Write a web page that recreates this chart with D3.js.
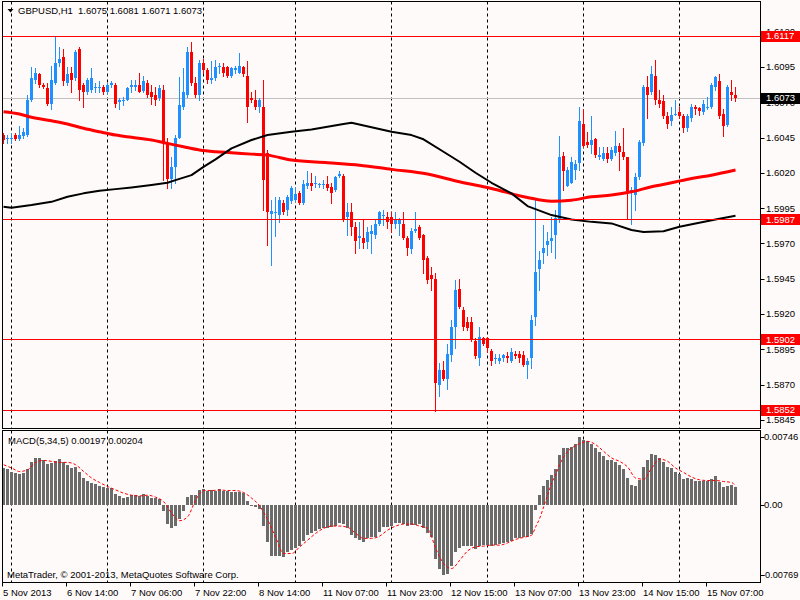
<!DOCTYPE html>
<html>
<head>
<meta charset="utf-8">
<script src="https://cdn.jsdelivr.net/npm/d3@7"></script>
<style>
  body { margin: 0; background: #fffafa; }
  svg { display: block; }
  text { font-family: "Liberation Sans", Arial, sans-serif; font-size: 9.5px; fill: #000; }
</style>
</head>
<body>
<div id="chart"></div>
<script>
// GBPUSD H1 bars, 5 Nov 2013 22:00 -> 15 Nov 2013 14:00
var opens = [1.6047,1.6044,1.6045,1.6047,1.6044,1.6046,1.6047,1.6072,1.6086,1.6090,
  1.6082,1.6080,1.6069,1.6084,1.6098,1.6102,1.6084,1.6091,1.6087,1.6108,
  1.6082,1.6077,1.6079,1.6081,1.6080,1.6081,1.6077,1.6082,1.6082,1.6070,
  1.6071,1.6072,1.6081,1.6081,1.6082,1.6078,1.6084,1.6077,1.6075,1.6073,
  1.6079,1.6041,1.6016,1.6024,1.6045,1.6067,1.6075,1.6106,1.6084,1.6075,
  1.6098,1.6093,1.6086,1.6087,1.6095,1.6095,1.6095,1.6089,1.6093,1.6091,
  1.6095,1.6089,1.6073,1.6072,1.6067,1.6067,1.6034,1.5991,1.5992,1.5990,
  1.5999,1.5994,1.6000,1.6001,1.6006,1.5999,1.6011,1.6013,1.6012,1.6012,
  1.6012,1.6012,1.6010,1.6008,1.6018,1.6018,1.5989,1.5992,1.5982,1.5974,
  1.5974,1.5971,1.5977,1.5976,1.5984,1.5990,1.5989,1.5989,1.5984,1.5984,
  1.5984,1.5974,1.5966,1.5979,1.5982,1.5976,1.5960,1.5948,1.5945,1.5870,
  1.5880,1.5874,1.5891,1.5911,1.5938,1.5923,1.5914,1.5914,1.5901,1.5889,
  1.5903,1.5903,1.5894,1.5889,1.5887,1.5889,1.5890,1.5887,1.5892,1.5892,
  1.5891,1.5884,1.5889,1.5918,1.5952,1.5963,1.5969,1.5972,1.5976,1.5987,
  1.6032,1.6011,1.6013,1.6022,1.6027,1.6055,1.6042,1.6040,1.6044,1.6031,
  1.6030,1.6034,1.6030,1.6034,1.6039,1.6035,1.6031,1.6006,1.6004,1.6017,
  1.6041,1.6081,1.6077,1.6089,1.6072,1.6071,1.6060,1.6057,1.6062,1.6063,
  1.6060,1.6052,1.6059,1.6067,1.6066,1.6063,1.6067,1.6067,1.6081,1.6085,
  1.6062,1.6054,1.6077,1.6075];
var highs = [1.6048,1.6047,1.6048,1.6048,1.6053,1.6052,1.6075,1.6095,1.6094,1.6091,
  1.6084,1.6084,1.6096,1.6117,1.6109,1.6108,1.6095,1.6095,1.6107,1.6109,
  1.6084,1.6087,1.6094,1.6084,1.6085,1.6082,1.6084,1.6085,1.6084,1.6073,
  1.6074,1.6081,1.6086,1.6086,1.6091,1.6089,1.6086,1.6082,1.6081,1.6082,
  1.6082,1.6045,1.6031,1.6047,1.6088,1.6094,1.6109,1.6113,1.6088,1.6100,
  1.6101,1.6094,1.6099,1.6100,1.6098,1.6098,1.6096,1.6095,1.6096,1.6105,
  1.6096,1.6099,1.6077,1.6079,1.6073,1.6086,1.6036,1.6001,1.6003,1.6003,
  1.6001,1.6004,1.6011,1.6009,1.6007,1.6015,1.6021,1.6020,1.6018,1.6013,
  1.6015,1.6018,1.6013,1.6018,1.6021,1.6019,1.5999,1.5999,1.5985,1.5985,
  1.5987,1.5982,1.5983,1.5987,1.5993,1.5994,1.5992,1.5992,1.5992,1.5988,
  1.5992,1.5975,1.5981,1.5992,1.5983,1.5977,1.5961,1.5953,1.5949,1.5885,
  1.5887,1.5899,1.5916,1.5944,1.5945,1.5925,1.5918,1.5918,1.5903,1.5911,
  1.5904,1.5904,1.5895,1.5892,1.5892,1.5892,1.5893,1.5896,1.5894,1.5894,
  1.5894,1.5889,1.5919,1.6001,1.5965,1.5983,1.5978,1.5989,1.5994,1.6046,
  1.6035,1.6024,1.6031,1.6029,1.6067,1.6065,1.6049,1.6060,1.6045,1.6038,
  1.6038,1.6038,1.6038,1.6050,1.6041,1.6052,1.6031,1.6010,1.6020,1.6043,
  1.6082,1.6089,1.6096,1.6100,1.6079,1.6075,1.6063,1.6067,1.6072,1.6067,
  1.6062,1.6062,1.6069,1.6068,1.6067,1.6072,1.6074,1.6084,1.6089,1.6090,
  1.6065,1.6082,1.6086,1.6081];
var lows = [1.6041,1.6041,1.6041,1.6043,1.6043,1.6045,1.6046,1.6071,1.6084,1.6081,
  1.6080,1.6068,1.6065,1.6083,1.6096,1.6082,1.6082,1.6077,1.6086,1.6072,
  1.6067,1.6076,1.6077,1.6077,1.6077,1.6076,1.6076,1.6081,1.6067,1.6065,
  1.6068,1.6072,1.6077,1.6079,1.6077,1.6077,1.6074,1.6069,1.6068,1.6072,
  1.6015,1.6009,1.6009,1.6013,1.6045,1.6065,1.6074,1.6082,1.6074,1.6072,
  1.6091,1.6084,1.6084,1.6086,1.6091,1.6089,1.6088,1.6088,1.6091,1.6091,
  1.6089,1.6056,1.6070,1.6065,1.6063,1.5994,1.5969,1.5955,1.5975,1.5985,
  1.5991,1.5990,1.5999,1.6000,1.5998,1.5998,1.6009,1.6008,1.6010,1.6010,
  1.6009,1.6008,1.5999,1.6007,1.6017,1.5986,1.5976,1.5976,1.5963,1.5967,
  1.5967,1.5967,1.5963,1.5974,1.5983,1.5983,1.5981,1.5978,1.5981,1.5976,
  1.5973,1.5962,1.5963,1.5978,1.5973,1.5949,1.5942,1.5937,1.5851,1.5862,
  1.5873,1.5867,1.5887,1.5896,1.5924,1.5909,1.5909,1.5901,1.5889,1.5884,
  1.5898,1.5893,1.5884,1.5885,1.5885,1.5887,1.5886,1.5886,1.5889,1.5886,
  1.5883,1.5875,1.5882,1.5912,1.5937,1.5956,1.5962,1.5964,1.5960,1.5985,
  1.6008,1.6011,1.6013,1.6016,1.6022,1.6038,1.6038,1.6034,1.6031,1.6030,
  1.6029,1.6028,1.6029,1.6033,1.6022,1.6030,1.5987,1.5984,1.5994,1.6016,
  1.6040,1.6059,1.6076,1.6069,1.6067,1.6059,1.6052,1.6054,1.6061,1.6059,
  1.6049,1.6050,1.6057,1.6062,1.6061,1.6062,1.6065,1.6066,1.6079,1.6059,
  1.6046,1.6053,1.6072,1.6071];
var closes = [1.6043,1.6045,1.6045,1.6044,1.6047,1.6049,1.6072,1.6087,1.6091,1.6082,
  1.6081,1.6069,1.6086,1.6098,1.6101,1.6085,1.6090,1.6086,1.6106,1.6079,
  1.6077,1.6086,1.6087,1.6081,1.6081,1.6077,1.6082,1.6084,1.6069,1.6072,
  1.6072,1.6080,1.6082,1.6082,1.6077,1.6085,1.6075,1.6074,1.6072,1.6080,
  1.6041,1.6016,1.6024,1.6045,1.6068,1.6077,1.6106,1.6084,1.6075,1.6098,
  1.6093,1.6086,1.6087,1.6095,1.6096,1.6091,1.6089,1.6094,1.6094,1.6096,
  1.6090,1.6067,1.6072,1.6067,1.6072,1.6015,1.5992,1.5993,1.5992,1.6001,
  1.5992,1.6003,1.6009,1.6005,1.5999,1.6012,1.6013,1.6011,1.6013,1.6012,
  1.6012,1.6009,1.6006,1.6017,1.6019,1.5987,1.5992,1.5982,1.5972,1.5975,
  1.5970,1.5978,1.5979,1.5984,1.5992,1.5990,1.5985,1.5984,1.5987,1.5987,
  1.5974,1.5967,1.5979,1.5980,1.5974,1.5958,1.5944,1.5945,1.5871,1.5880,
  1.5874,1.5892,1.5911,1.5937,1.5925,1.5911,1.5910,1.5902,1.5890,1.5904,
  1.5899,1.5896,1.5887,1.5889,1.5889,1.5891,1.5889,1.5893,1.5890,1.5889,
  1.5884,1.5887,1.5916,1.5950,1.5958,1.5967,1.5972,1.5974,1.5988,1.6031,
  1.6021,1.6022,1.6028,1.6026,1.6057,1.6039,1.6040,1.6043,1.6033,1.6033,
  1.6034,1.6030,1.6036,1.6039,1.6035,1.6031,1.6006,1.6008,1.6017,1.6042,
  1.6081,1.6075,1.6090,1.6072,1.6069,1.6060,1.6055,1.6061,1.6062,1.6060,
  1.6052,1.6060,1.6067,1.6065,1.6064,1.6069,1.6067,1.6082,1.6088,1.6060,
  1.6053,1.6081,1.6075,1.6073];

// moving averages at a few bars (bar index, price)
var maRedBars = [0,4,7,12,16,20,24,28,32,37,41,45,49,53,57,62,66,72,81,89,97,106,114,122,131,137,142,147,152,157,162,167,172,177,183];
var maRedValues = [1.60633,1.60617,1.60594,1.60569,1.60546,1.60516,1.60491,1.60468,1.60452,1.60433,1.60409,1.60385,1.60362,1.60350,1.60343,
  1.60333,1.60326,1.60291,1.60272,1.60255,1.60225,1.60192,1.60137,1.60090,1.60026,1.60000,1.60007,1.60031,1.60043,1.60066,
  1.60102,1.60130,1.60161,1.60184,1.60220];
var maBlackBars = [0,2,7,12,16,20,24,28,32,37,41,43,47,50,53,57,62,66,72,77,81,85,87,92,97,102,105,110,114,118,122,127,131,137,142,147,152,157,160,165,169,173,178,183];
var maBlackValues = [1.59960,1.59953,1.59972,1.59995,1.60031,1.60055,1.60073,1.60085,1.60097,1.60114,1.60130,1.60149,1.60184,1.60243,1.60296,
  1.60374,1.60433,1.60468,1.60491,1.60508,1.60527,1.60546,1.60555,1.60523,1.60491,1.60468,1.60438,1.60350,1.60279,1.60201,
  1.60130,1.60055,1.59965,1.59901,1.59870,1.59853,1.59842,1.59795,1.59782,1.59787,1.59818,1.59842,1.59870,1.59896];

// MACD(5,34,5) histogram, one value per bar
var macdMain = [0.00405,0.00394,0.00367,0.00350,0.00342,0.00350,0.00394,0.00471,0.00515,0.00515,
  0.00489,0.00452,0.00460,0.00478,0.00504,0.00467,0.00441,0.00405,0.00422,0.00367,
  0.00295,0.00268,0.00246,0.00232,0.00210,0.00202,0.00191,0.00184,0.00121,0.00099,
  0.00081,0.00092,0.00107,0.00107,0.00099,0.00121,0.00099,0.00074,0.00074,0.00063,
  -0.00063,-0.00210,-0.00257,-0.00232,-0.00158,-0.00063,0.00092,0.00110,0.00110,0.00165,
  0.00173,0.00158,0.00165,0.00158,0.00173,0.00158,0.00158,0.00147,0.00147,0.00147,
  0.00136,0.00047,0.00002,-0.00025,-0.00047,-0.00232,-0.00405,-0.00563,-0.00563,-0.00563,
  -0.00570,-0.00515,-0.00496,-0.00467,-0.00452,-0.00394,-0.00331,-0.00306,-0.00283,-0.00268,
  -0.00257,-0.00250,-0.00239,-0.00232,-0.00195,-0.00210,-0.00257,-0.00331,-0.00367,-0.00386,
  -0.00405,-0.00367,-0.00356,-0.00350,-0.00295,-0.00246,-0.00239,-0.00232,-0.00202,-0.00202,
  -0.00210,-0.00232,-0.00221,-0.00221,-0.00210,-0.00257,-0.00306,-0.00350,-0.00588,-0.00698,
  -0.00769,-0.00761,-0.00673,-0.00515,-0.00467,-0.00452,-0.00452,-0.00452,-0.00478,-0.00452,
  -0.00441,-0.00441,-0.00452,-0.00441,-0.00430,-0.00422,-0.00405,-0.00394,-0.00367,-0.00367,
  -0.00356,-0.00350,-0.00320,-0.00055,0.00110,0.00210,0.00276,0.00331,0.00394,0.00552,
  0.00625,0.00625,0.00636,0.00673,0.00746,0.00717,0.00698,0.00673,0.00625,0.00577,
  0.00540,0.00496,0.00489,0.00467,0.00441,0.00394,0.00295,0.00221,0.00210,0.00276,
  0.00422,0.00489,0.00563,0.00552,0.00515,0.00467,0.00422,0.00405,0.00367,0.00342,
  0.00283,0.00295,0.00283,0.00268,0.00268,0.00268,0.00268,0.00283,0.00320,0.00257,
  0.00195,0.00210,0.00221,0.00197];
// signal line read at these bars
var signalBars = [0,2,4,6,8,10,12,14,16,18,20,22,24,26,28,30,32,34,36,38,40,42,44,46,48,50,52,54,56,58,
  60,62,64,66,68,70,72,74,76,78,80,82,84,86,88,90,92,94,96,98,100,102,104,106,108,110,112,114,116,118,
  120,122,124,126,128,130,132,133,134,135,136,137,138,139,140,141,142,143,144,
  146,148,150,152,154,156,158,160,162,164,166,168,170,172,174,176,178,180,182,183];
var signalValues = [0.00441,0.00405,0.00367,0.00386,0.00467,0.00489,0.00478,0.00467,0.00467,0.00441,
  0.00367,0.00295,0.00246,0.00202,0.00165,0.00129,0.00107,0.00099,0.00107,0.00085,
  0.00036,-0.00092,-0.00173,-0.00129,0.00055,0.00158,0.00158,0.00165,0.00158,0.00158,
  0.00136,0.00074,-0.00011,-0.00165,-0.00356,-0.00533,-0.00533,-0.00460,-0.00386,-0.00312,
  -0.00257,-0.00232,-0.00232,-0.00246,-0.00312,-0.00367,-0.00367,-0.00342,-0.00276,-0.00232,
  -0.00210,-0.00210,-0.00232,-0.00257,-0.00478,-0.00643,-0.00698,-0.00607,-0.00504,-0.00460,
  -0.00452,-0.00441,-0.00441,-0.00416,-0.00378,-0.00356,-0.00331,
  -0.00239,-0.00147,-0.00019,0.00110,0.00239,0.00331,0.00441,0.00526,0.00588,0.00625,0.00651,0.00673,
  0.00698,0.00662,0.00588,0.00515,0.00478,0.00416,0.00295,0.00283,0.00405,0.00504,
  0.00478,0.00405,0.00356,0.00306,0.00276,0.00268,0.00268,0.00257,0.00246,0.00204];

// horizontal levels, bid, separators and axis labels
var levelLines = [1.6117, 1.5987, 1.5902, 1.5852];
var bidPrice = 1.6073;
var separatorBars = [2, 26, 50, 73, 97, 121, 145, 169];
var timeLabelBars = [0, 16, 32, 48, 64, 80, 96, 112, 128, 144, 160, 176];
var timeLabels = ["5 Nov 2013", "6 Nov 14:00", "7 Nov 06:00", "7 Nov 22:00", "8 Nov 14:00", "11 Nov 07:00",
  "11 Nov 23:00", "12 Nov 15:00", "13 Nov 07:00", "13 Nov 23:00", "14 Nov 15:00", "15 Nov 07:00"];
var priceTicks = d3.range(0, 12).map(function(k) { return +(1.5845 + k * 0.0025).toFixed(4); });
var macdTicks = [0.00746, 0, -0.00769];
var macdTickLabels = ["0.00746", "0.00", "-0.00769"];

// ---------------------------------------------------------------
var svgWidth = 800, svgHeight = 600;
var mainBox = {left: 2.5, right: 760.5, top: 1.5, bottom: 428.5};
var subBox = {top: 430.5, bottom: 582.5};

var svg = d3.select("#chart").append("svg")
  .attr("width", svgWidth).attr("height", svgHeight);

svg.append("rect").attr("width", svgWidth).attr("height", svgHeight).attr("fill", "#fffafa");

var n = closes.length;
var xScale = d3.scaleLinear().domain([0, n - 1]).range([3.7, 3.7 + 4 * (n - 1)]);
var yPrice = d3.scaleLinear().domain([1.5852, 1.6117]).range([410, 36]);
var yMacd = d3.scaleLinear().domain([-0.00769, 0.00746]).range([575, 437]);

function col(i) { return Math.floor(xScale(i)); }

var defs = svg.append("defs");
defs.append("clipPath").attr("id", "clipMain").append("rect")
  .attr("x", mainBox.left).attr("y", mainBox.top)
  .attr("width", mainBox.right - mainBox.left).attr("height", mainBox.bottom - mainBox.top);
defs.append("clipPath").attr("id", "clipSub").append("rect")
  .attr("x", mainBox.left).attr("y", subBox.top)
  .attr("width", mainBox.right - mainBox.left).attr("height", subBox.bottom - subBox.top);

var mainG = svg.append("g").attr("clip-path", "url(#clipMain)");
var subG = svg.append("g").attr("clip-path", "url(#clipSub)");

// day separators (both windows)
[[mainG, mainBox.top, mainBox.bottom], [subG, subBox.top, subBox.bottom]].forEach(function(p) {
  p[0].selectAll(".sep").data(separatorBars).enter().append("line")
    .attr("x1", d => col(d) + 0.5).attr("x2", d => col(d) + 0.5)
    .attr("y1", p[1]).attr("y2", p[2])
    .attr("stroke", "#000").attr("stroke-dasharray", "3,3");
});

// bid line
mainG.append("line")
  .attr("x1", mainBox.left).attr("x2", mainBox.right)
  .attr("y1", Math.round(yPrice(bidPrice)) + 0.5).attr("y2", Math.round(yPrice(bidPrice)) + 0.5)
  .attr("stroke", "#c0c0c0");

// candles
var bars = d3.range(n);
var candleColor = i => closes[i] >= opens[i] ? "#1e90ff" : "#ff0000";
mainG.selectAll(".wick").data(bars).enter().append("rect")
  .attr("x", i => col(i)).attr("width", 1)
  .attr("y", i => Math.round(yPrice(highs[i])))
  .attr("height", i => Math.max(1, Math.round(yPrice(lows[i])) - Math.round(yPrice(highs[i])) + 1))
  .attr("fill", candleColor).attr("shape-rendering", "crispEdges");
mainG.selectAll(".body").data(bars).enter().append("rect")
  .attr("x", i => col(i) - 1).attr("width", 3)
  .attr("y", i => Math.round(yPrice(Math.max(opens[i], closes[i]))))
  .attr("height", i => Math.max(1, Math.round(yPrice(Math.min(opens[i], closes[i]))) - Math.round(yPrice(Math.max(opens[i], closes[i])))))
  .attr("fill", candleColor).attr("shape-rendering", "crispEdges");

// moving averages
var maRed = d3.line().curve(d3.curveMonotoneX)
  .x(d => xScale(d[0]) - 0.2).y(d => yPrice(d[1]));
var maBlack = d3.line()
  .x(d => xScale(d[0]) - 0.2).y(d => yPrice(d[1]));
mainG.append("path").datum(maRedBars.map((b, k) => [b, maRedValues[k]]))
  .attr("d", maRed).attr("fill", "none").attr("stroke", "#ff0000").attr("stroke-width", 3);
mainG.append("path").datum(maBlackBars.map((b, k) => [b, maBlackValues[k]]))
  .attr("d", maBlack).attr("fill", "none").attr("stroke", "#000").attr("stroke-width", 2)
  .attr("stroke-linejoin", "round");

// level lines
mainG.selectAll(".lvl").data(levelLines).enter().append("line")
  .attr("x1", mainBox.left).attr("x2", mainBox.right)
  .attr("y1", d => Math.round(yPrice(d)) + 0.5).attr("y2", d => Math.round(yPrice(d)) + 0.5)
  .attr("stroke", "#ff0000");

// MACD histogram
subG.selectAll(".hist").data(bars).enter().append("rect")
  .attr("x", i => col(i) - 1).attr("width", 3)
  .attr("y", i => Math.round(Math.min(yMacd(0), yMacd(macdMain[i]))))
  .attr("height", i => Math.max(1, Math.round(Math.abs(yMacd(macdMain[i]) - yMacd(0)))))
  .attr("fill", "#6b6b6b").attr("shape-rendering", "crispEdges");

// signal line
subG.append("path").datum(signalBars.map((b, k) => [b, signalValues[k]]))
  .attr("d", d3.line().curve(d3.curveMonotoneX).x(d => xScale(d[0])).y(d => yMacd(d[1])))
  .attr("fill", "none").attr("stroke", "#ff0000").attr("stroke-width", 1)
  .attr("stroke-dasharray", "3,2");

// window frames
var frame = svg.append("g").attr("fill", "none").attr("stroke", "#000").attr("shape-rendering", "crispEdges");
frame.append("rect").attr("x", mainBox.left).attr("y", mainBox.top)
  .attr("width", mainBox.right - mainBox.left).attr("height", mainBox.bottom - mainBox.top);
frame.append("rect").attr("x", mainBox.left).attr("y", subBox.top)
  .attr("width", mainBox.right - mainBox.left).attr("height", subBox.bottom - subBox.top);

// price axis
var priceAxis = svg.append("g");
priceAxis.selectAll(".pt").data(priceTicks).enter().append("line")
  .attr("x1", mainBox.right).attr("x2", mainBox.right + 4)
  .attr("y1", d => Math.round(yPrice(d)) + 0.5).attr("y2", d => Math.round(yPrice(d)) + 0.5)
  .attr("stroke", "#000");
priceAxis.selectAll(".pl").data(priceTicks).enter().append("text")
  .attr("x", 766).attr("y", d => yPrice(d)).attr("dy", "0.35em")
  .text(d => d.toFixed(4));

// boxes for level lines and bid
var boxes = levelLines.map(v => ({v: v, fill: "#ff0000"})).concat([{v: bidPrice, fill: "#000"}]);
var boxG = svg.append("g").selectAll("g").data(boxes).enter().append("g");
boxG.append("rect")
  .attr("x", 761).attr("y", d => Math.round(yPrice(d.v)) - 5)
  .attr("width", 39).attr("height", 11).attr("fill", d => d.fill);
boxG.append("text")
  .attr("x", 766).attr("y", d => yPrice(d.v)).attr("dy", "0.35em")
  .style("fill", "#fff").text(d => d.v.toFixed(4));

// MACD axis
var macdAxis = svg.append("g");
macdAxis.selectAll("line").data(macdTicks).enter().append("line")
  .attr("x1", mainBox.right).attr("x2", mainBox.right + 4)
  .attr("y1", d => Math.round(yMacd(d)) + 0.5).attr("y2", d => Math.round(yMacd(d)) + 0.5)
  .attr("stroke", "#000");
macdAxis.selectAll("text").data(macdTicks).enter().append("text")
  .attr("x", d => d < 0 ? 762 : 764).attr("y", d => yMacd(d)).attr("dy", "0.35em")
  .style("font-size", d => d < 0 ? "9.2px" : null)
  .text((d, k) => macdTickLabels[k]);

// time axis
var timeAxis = svg.append("g");
timeAxis.selectAll("line").data(timeLabelBars).enter().append("line")
  .attr("x1", d => col(d) - 0.5).attr("x2", d => col(d) - 0.5)
  .attr("y1", subBox.bottom).attr("y2", subBox.bottom + 4)
  .attr("stroke", "#000");
timeAxis.selectAll("text").data(timeLabelBars).enter().append("text")
  .attr("x", d => col(d)).attr("y", 595.5)
  .text((d, k) => timeLabels[k]);

// titles
svg.append("path").attr("d", "M7.5,9 L13.5,9 L10.5,12.5 Z").attr("fill", "#000");
svg.append("text").attr("x", 18).attr("y", 14).text("GBPUSD,H1");
svg.append("text").attr("x", 78).attr("y", 14)
  .text([opens[n - 1], highs[n - 1], lows[n - 1], closes[n - 1]].map(v => v.toFixed(4)).join(" "));
svg.append("text").attr("x", 8).attr("y", 443.5)
  .text("MACD(5,34,5) " + macdMain[n - 1].toFixed(5) + " " + signalValues[signalValues.length - 1].toFixed(5));
svg.append("text").attr("x", 7).attr("y", 577.5)
  .text("MetaTrader, \u00a9 2001-2013, MetaQuotes Software Corp.");
</script>
</body>
</html>
